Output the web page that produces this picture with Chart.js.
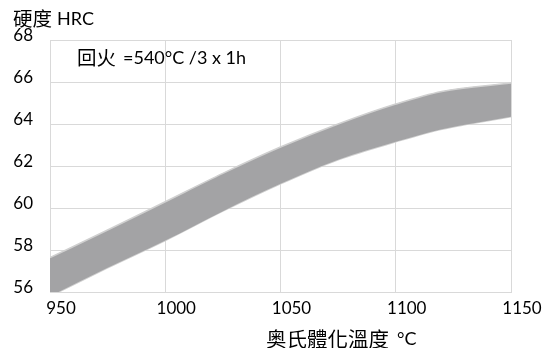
<!DOCTYPE html>
<html>
<head>
<meta charset="utf-8">
<script src="https://cdn.jsdelivr.net/npm/chart.js@4/dist/chart.umd.min.js"></script>
<style>
html,body{margin:0;padding:0;background:#fff;}
#wrap{width:546px;height:348px;position:relative;}
</style>
</head>
<body>
<div id="wrap"><canvas id="c" width="546" height="348"></canvas></div>
<script>
// Austenitizing temperature (°C)
const temperatures = [950, 975, 1000, 1025, 1050, 1075, 1100, 1120, 1150];
// Hardness band (HRC)
const upperHRC = [57.64, 58.95, 60.3, 61.65, 62.9, 64.0, 64.95, 65.55, 65.95];
const lowerHRC = [55.8, 57.15, 58.45, 59.85, 61.15, 62.3, 63.15, 63.75, 64.35];
const xTicks = [950, 1000, 1050, 1100, 1150];
const yTicks = [56, 58, 60, 62, 64, 66, 68];
const yTitle = ['硬度', 'HRC'];
const xTitle = ['奥氏體化溫度', '°C'];
const note = ['回火', '=540°C /3 x 1h'];

const LATIN = "Lato, 'Noto Sans CJK TC', sans-serif";
const CJK = "'Noto Sans CJK TC', Lato, sans-serif";
const GRID = '#d9d9d9';
Chart.defaults.color = '#000';

function pts(ys){ return temperatures.map((t,i)=>({x:t, y:ys[i]})); }

const textPlugin = {
  id: 'texts',
  afterDraw(chart){
    const ctx = chart.ctx;
    ctx.save();
    ctx.fillStyle = '#000';
    ctx.textBaseline = 'middle';
    ctx.textAlign = 'left';
    function pair(x, y, a, b, gap, sa, sb){
      ctx.font = sa + 'px ' + CJK;
      ctx.fillText(a, x, y);
      const w = ctx.measureText(a).width;
      ctx.font = sb + 'px ' + LATIN;
      ctx.fillText(b, x + w + gap, y);
    }
    pair(13, 19, yTitle[0], yTitle[1], 5, 19.5, 18);
    pair(77, 58, note[0], note[1], 7, 19.5, 18);
    pair(266, 339, xTitle[0], xTitle[1], 8, 20.5, 18);
    ctx.restore();
  }
};

new Chart(document.getElementById('c'), {
  type: 'line',
  data: {
    datasets: [
      {
        data: pts(upperHRC),
        borderColor: '#d0d0d0',
        borderWidth: 1.6,
        backgroundColor: '#a3a3a5',
        fill: '+1',
        pointRadius: 0,
        cubicInterpolationMode: 'monotone'
      },
      {
        data: pts(lowerHRC),
        borderColor: '#d0d0d0',
        borderWidth: 1.6,
        backgroundColor: '#a3a3a5',
        fill: false,
        pointRadius: 0,
        cubicInterpolationMode: 'monotone'
      }
    ]
  },
  options: {
    responsive: false,
    animation: false,
    devicePixelRatio: 1,
    layout: { padding: { top: 40, right: 35, bottom: 0, left: 0 } },
    plugins: { legend: { display: false }, tooltip: { enabled: false }, title: { display: false } },
    scales: {
      x: {
        type: 'linear',
        min: 950, max: 1150,
        afterBuildTicks(s){ s.ticks = xTicks.map(v=>({value:v})); },
        afterFit(s){ s.height = 56; s.paddingLeft = 0; s.paddingRight = 0; },
        grid: { color: GRID, lineWidth: 1, drawTicks: false },
        border: { color: GRID, width: 1 },
        ticks: { color: '#000', font: { family: LATIN, size: 17 }, padding: 6, labelOffset: 11, maxRotation: 0, autoSkip: false, callback: v => String(v) }
      },
      y: {
        min: 56, max: 68,
        afterBuildTicks(s){ s.ticks = yTicks.map(v=>({value:v})); },
        afterFit(s){ s.width = 50; s.paddingTop = 0; s.paddingBottom = 0; },
        grid: { color: GRID, lineWidth: 1, drawTicks: false },
        border: { color: GRID, width: 1 },
        ticks: { color: '#000', font: { family: LATIN, size: 17 }, padding: 17, labelOffset: -4, autoSkip: false, callback: v => String(v) }
      }
    }
  },
  plugins: [textPlugin]
});
</script>
</body>
</html>
